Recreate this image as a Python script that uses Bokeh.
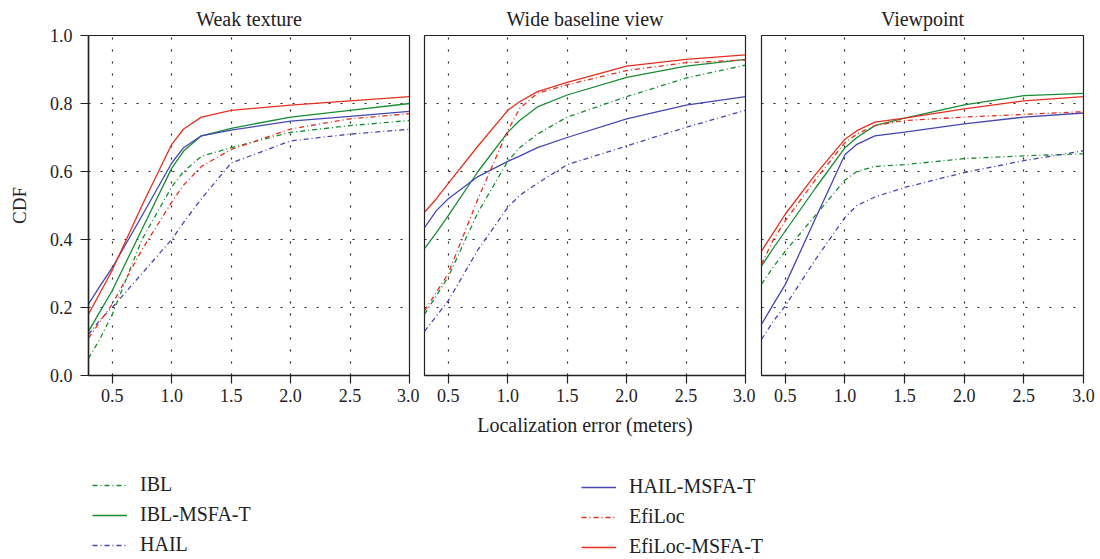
from bokeh.plotting import figure
from bokeh.layouts import column, row
from bokeh.models import Range1d, FixedTicker, PrintfTickFormatter, Legend, LegendItem
from bokeh.embed import file_html
from bokeh.resources import INLINE

# ---------------- data ----------------
x_err = [0.3, 0.4, 0.5, 0.75, 1.0, 1.1, 1.25, 1.5, 2.0, 2.5, 3.0]

panel_titles = ["Weak texture", "Wide baseline view", "Viewpoint"]
series_names = ["IBL", "IBL-MSFA-T", "HAIL", "HAIL-MSFA-T", "EfiLoc", "EfiLoc-MSFA-T"]

# Weak texture
weak_ibl        = [0.05, 0.11, 0.18, 0.40, 0.555, 0.60, 0.645, 0.67, 0.715, 0.735, 0.75]
weak_ibl_msfa   = [0.13, 0.19, 0.25, 0.43, 0.61, 0.66, 0.705, 0.727, 0.76, 0.78, 0.80]
weak_hail       = [0.12, 0.165, 0.20, 0.30, 0.40, 0.45, 0.52, 0.625, 0.69, 0.71, 0.724]
weak_hail_msfa  = [0.21, 0.265, 0.317, 0.47, 0.625, 0.67, 0.705, 0.722, 0.748, 0.762, 0.777]
weak_efi        = [0.11, 0.16, 0.21, 0.37, 0.51, 0.56, 0.615, 0.665, 0.725, 0.755, 0.77]
weak_efi_msfa   = [0.18, 0.245, 0.31, 0.50, 0.68, 0.725, 0.76, 0.78, 0.795, 0.808, 0.82]

# Wide baseline view
wide_ibl        = [0.18, 0.235, 0.29, 0.48, 0.63, 0.67, 0.71, 0.76, 0.82, 0.875, 0.913]
wide_ibl_msfa   = [0.373, 0.42, 0.47, 0.60, 0.715, 0.75, 0.79, 0.825, 0.877, 0.91, 0.93]
wide_hail       = [0.13, 0.175, 0.22, 0.37, 0.494, 0.53, 0.565, 0.62, 0.675, 0.73, 0.78]
wide_hail_msfa  = [0.435, 0.485, 0.52, 0.585, 0.63, 0.645, 0.67, 0.70, 0.755, 0.795, 0.82]
wide_efi        = [0.19, 0.245, 0.30, 0.52, 0.72, 0.785, 0.83, 0.855, 0.897, 0.92, 0.928]
wide_efi_msfa   = [0.48, 0.52, 0.565, 0.675, 0.78, 0.805, 0.835, 0.862, 0.91, 0.93, 0.943]

# Viewpoint
view_ibl        = [0.268, 0.32, 0.366, 0.47, 0.575, 0.60, 0.615, 0.62, 0.638, 0.646, 0.652]
view_ibl_msfa   = [0.322, 0.375, 0.425, 0.55, 0.67, 0.70, 0.735, 0.757, 0.796, 0.823, 0.83]
view_hail       = [0.106, 0.16, 0.205, 0.34, 0.465, 0.50, 0.525, 0.553, 0.597, 0.632, 0.661]
view_hail_msfa  = [0.15, 0.21, 0.268, 0.46, 0.65, 0.68, 0.705, 0.716, 0.74, 0.76, 0.772]
view_efi        = [0.327, 0.40, 0.455, 0.575, 0.685, 0.71, 0.735, 0.75, 0.76, 0.768, 0.776]
view_efi_msfa   = [0.366, 0.42, 0.475, 0.59, 0.695, 0.72, 0.745, 0.757, 0.784, 0.808, 0.82]

x_ticks = [0.5, 1.0, 1.5, 2.0, 2.5, 3.0]
y_ticks = [0.0, 0.2, 0.4, 0.6, 0.8, 1.0]

panels_data = [
    [weak_ibl, weak_ibl_msfa, weak_hail, weak_hail_msfa, weak_efi, weak_efi_msfa],
    [wide_ibl, wide_ibl_msfa, wide_hail, wide_hail_msfa, wide_efi, wide_efi_msfa],
    [view_ibl, view_ibl_msfa, view_hail, view_hail_msfa, view_efi, view_efi_msfa],
]

# ---------------- styles ----------------
GREEN = "#188c33"
BLUE = "#4646b0"
RED = "#e3301f"
DASHDOT = "5 3 1 3"
styles = [
    dict(color=GREEN, dash=DASHDOT),
    dict(color=GREEN, dash="solid"),
    dict(color=BLUE, dash=DASHDOT),
    dict(color=BLUE, dash="solid"),
    dict(color=RED, dash=DASHDOT),
    dict(color=RED, dash="solid"),
]

FONT = "Liberation Serif"
INK = "#222222"

borders = [(88, 10), (5, 10), (6, 12)]
frame_widths = [321, 321, 322]

figs = []
for i in range(3):
    p = figure(
        output_backend="svg", toolbar_location=None,
        frame_width=frame_widths[i], frame_height=340,
        x_range=Range1d(0.3, 3.0), y_range=Range1d(0.0, 1.0),
        min_border_left=borders[i][0], min_border_right=borders[i][1],
        min_border_top=35, min_border_bottom=70,
        title=panel_titles[i],
    )
    p.title.align = "center"
    p.title.text_font = FONT
    p.title.text_font_size = "20px"
    p.title.text_font_style = "normal"
    p.title.text_color = INK
    p.title.standoff = 11
    p.title.offset = 0

    p.outline_line_color = INK
    p.outline_line_width = 1.2
    p.background_fill_color = "white"
    p.border_fill_color = "white"

    p.xaxis.ticker = FixedTicker(ticks=x_ticks)
    p.xaxis.formatter = PrintfTickFormatter(format="%.1f")
    p.xaxis.major_tick_out = 8
    p.xaxis.major_tick_in = 0
    p.xaxis.minor_tick_line_color = None
    p.xaxis.axis_line_color = INK
    p.xaxis.axis_line_width = 1.5
    p.xaxis.major_tick_line_color = INK
    p.xaxis.major_tick_line_width = 1.2
    p.xaxis.major_label_text_font = FONT
    p.xaxis.major_label_text_font_size = "18px"
    p.xaxis.major_label_text_color = INK
    p.xaxis.major_label_standoff = 5

    p.yaxis.ticker = FixedTicker(ticks=y_ticks)
    p.yaxis.formatter = PrintfTickFormatter(format="%.1f")
    p.yaxis.major_tick_out = 8
    p.yaxis.major_tick_in = 0
    p.yaxis.minor_tick_line_color = None
    p.yaxis.axis_line_color = INK
    p.yaxis.axis_line_width = 1.5
    p.yaxis.major_tick_line_color = INK
    p.yaxis.major_tick_line_width = 1.2
    p.yaxis.major_label_text_font = FONT
    p.yaxis.major_label_text_font_size = "18px"
    p.yaxis.major_label_text_color = INK
    p.yaxis.major_label_standoff = 8

    p.xgrid.ticker = FixedTicker(ticks=x_ticks)
    p.ygrid.ticker = FixedTicker(ticks=y_ticks)
    for g in (p.xgrid, p.ygrid):
        g.grid_line_color = INK
        g.grid_line_dash = "2 10"
        g.grid_line_width = 1.2

    if i == 0:
        p.yaxis.axis_label = "CDF"
        p.yaxis.axis_label_text_font = FONT
        p.yaxis.axis_label_text_font_size = "19px"
        p.yaxis.axis_label_text_font_style = "normal"
        p.yaxis.axis_label_text_color = INK
        p.yaxis.axis_label_standoff = 17
    else:
        p.yaxis.visible = False

    if i == 1:
        p.xaxis.axis_label = "Localization error (meters)"
        p.xaxis.axis_label_text_font = FONT
        p.xaxis.axis_label_text_font_size = "20px"
        p.xaxis.axis_label_text_font_style = "normal"
        p.xaxis.axis_label_text_color = INK
        p.xaxis.axis_label_standoff = 9

    for vals, st in zip(panels_data[i], styles):
        p.line(x_err, vals, line_color=st["color"], line_dash=st["dash"], line_width=1.3)

    figs.append(p)

# ---------------- legend figure ----------------
# the legend panel shows only the legend: its x range lies outside the data
lg = figure(
    output_backend="svg", toolbar_location=None,
    width=1100, height=112,
    x_range=Range1d(100, 101), y_range=Range1d(0, 1),
    x_axis_type=None, y_axis_type=None,
    min_border_left=0, min_border_right=0, min_border_top=0, min_border_bottom=0,
)
lg.grid.visible = False
lg.outline_line_color = None

items = []
for name, st, vals in zip(series_names, styles, panels_data[0]):
    r = lg.line(x_err, vals, line_color=st["color"], line_dash=st["dash"], line_width=1.4)
    items.append(LegendItem(label=name, renderers=[r]))


def make_legend(its, loc):
    leg = Legend(items=its, location=loc, orientation="vertical")
    leg.padding = 0
    leg.margin = 0
    leg.spacing = 7
    leg.glyph_width = 35
    leg.glyph_height = 20
    leg.label_height = 20
    leg.label_standoff = 13
    leg.label_text_font = FONT
    leg.label_text_font_size = "20px"
    leg.label_text_color = INK
    leg.border_line_color = None
    leg.background_fill_alpha = 0
    return leg


lg.add_layout(make_legend(items[:3], (92, 1)))
lg.add_layout(make_legend(items[3:], (581, -1)))

layout = column(row(*figs, spacing=0), lg, spacing=0)

open("out.html", "w").write(file_html(layout, INLINE))
